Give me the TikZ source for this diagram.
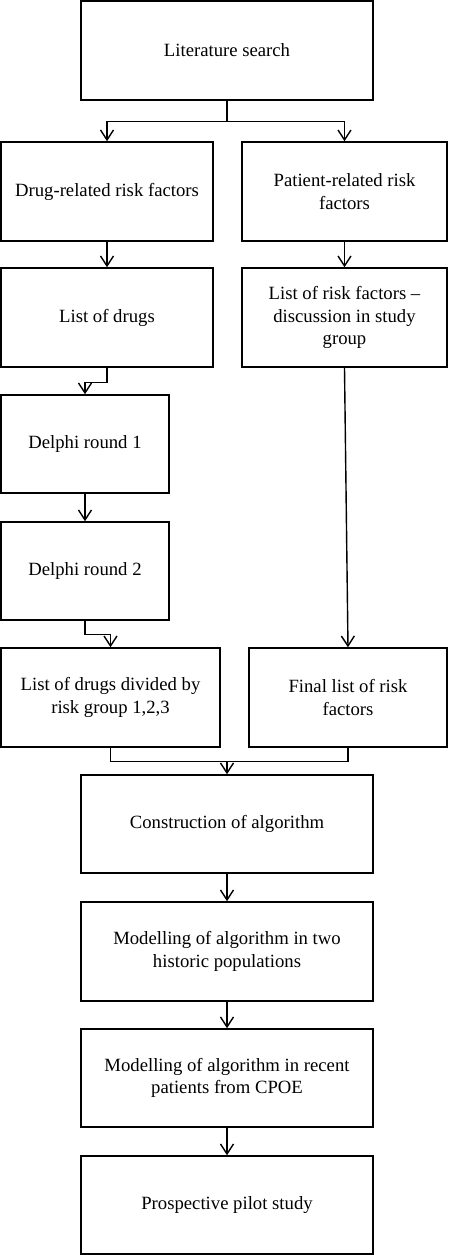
\documentclass[tikz,border=0pt]{standalone}
\usepackage{fontspec}
\setmainfont{Liberation Serif}
\usetikzlibrary{arrows.meta}
\begin{document}
\begin{tikzpicture}[x=1pt,y=-1pt,
  box/.style={draw,line width=1.5pt,rectangle,inner sep=0pt,align=center,
    font=\fontsize{18.7}{22.5}\selectfont},
  conn/.style={line width=1.4pt},
  arr/.style={conn,-{Straight Barb[length=10pt,width=13pt,line width=1.4pt]}}]
\useasboundingbox (0,0) rectangle (450,1255);
\newcommand{\bx}[6]{\node[box,minimum width=#4-#2,minimum height=#5-#3] (#1) at ({(#2+#4)/2},{(#3+#5)/2}) {#6};}
\bx{lit}{81}{1}{373}{100}{Literature search}
\bx{drug}{1}{142}{213}{241}{Drug-related risk factors}
\bx{pat}{242}{142}{447}{241}{Patient-related risk\\factors}
\bx{lod}{1}{268}{213}{367}{List of drugs}
\bx{lrf}{242}{268}{447}{367}{List of risk factors --\\discussion in study\\group}
\bx{d1}{1}{395}{169}{493}{Delphi round 1}
\bx{d2}{1}{522}{169}{620}{Delphi round 2}
\bx{ldd}{1}{648}{220}{747}{List of drugs divided by\\risk group 1,2,3}
\bx{flr}{249}{648}{447}{747}{Final list of risk\\factors}
\bx{con}{81}{775}{373}{873}{Construction of algorithm}
\bx{m1}{81}{902}{373}{1001}{Modelling of algorithm in two\\historic populations}
\bx{m2}{81}{1029}{373}{1127}{Modelling of algorithm in recent\\patients from CPOE}
\bx{pps}{81}{1156}{373}{1254}{Prospective pilot study}
% connectors
\draw[conn] (lit.south) -- ++(0,21) coordinate (b1);
\draw[arr] (b1) -| (drug.north);
\draw[arr] (b1) -| (pat.north);
\draw[arr] (drug.south) -- (lod.north);
\draw[arr] (pat.south) -- (lrf.north);
\draw[arr] (lod.south) -- ++(0,15) -| (d1.north);
\draw[arr] (d1.south) -- (d2.north);
\draw[arr] (d2.south) -- ++(0,14) -| (ldd.north);
\draw[arr] (lrf.south) -- (flr.north);
\draw[conn] (ldd.south) -- ++(0,14) coordinate (j1) -| (flr.south);
\coordinate (j2) at (con.north |- j1);
\draw[arr] (j2) -- (con.north);
\draw[arr] (con.south) -- (m1.north);
\draw[arr] (m1.south) -- (m2.north);
\draw[arr] (m2.south) -- (pps.north);
\end{tikzpicture}
\end{document}
